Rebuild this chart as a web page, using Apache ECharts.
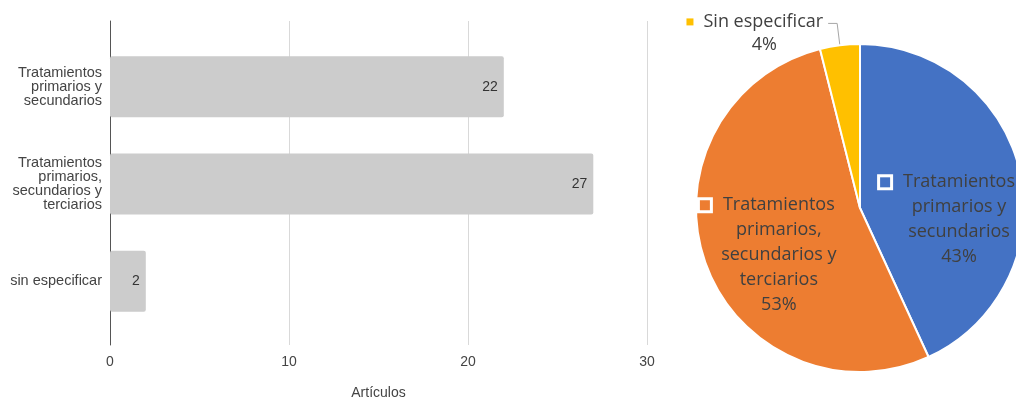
<!DOCTYPE html>
<html>
<head>
<meta charset="utf-8">
<script src="https://cdn.jsdelivr.net/npm/echarts@6/dist/echarts.min.js"></script>
<style>
  html, body { margin: 0; padding: 0; background: #ffffff; }
  #chart { width: 1016px; height: 400px; }
</style>
</head>
<body>
<div id="chart"></div>
<script>
// Bar chart: number of articles per treatment category
const categories = [
  'Tratamientos\nprimarios y\nsecundarios',
  'Tratamientos\nprimarios,\nsecundarios y\nterciarios',
  'sin especificar'
];
const articleCounts = [22, 27, 2];
const axisMin = 0;
const axisMax = 30;
const axisStep = 10;
const axisTitle = 'Artículos';

// Pie chart: share of each category
const sliceNames = [
  'Tratamientos primarios y secundarios',
  'Tratamientos primarios, secundarios y terciarios',
  'Sin especificar'
];
const sliceLabelLines = [
  ['Tratamientos', 'primarios y', 'secundarios'],
  ['Tratamientos', 'primarios,', 'secundarios y', 'terciarios'],
  ['Sin especificar']
];
const sliceValues = [22, 27, 2];

const sliceColors = ['#4472C4', '#ED7D31', '#FFC000'];
const barFont = '"Liberation Sans", Arial, sans-serif';
const pieFont = '"Open Sans", "Noto Sans", sans-serif';

const chart = echarts.init(document.getElementById('chart'), null, { renderer: 'canvas' });

const keyStyle = (color) => ({
  width: 10, height: 10, backgroundColor: color,
  borderColor: '#ffffff', borderWidth: 3, align: 'center'
});

const pieRich = {
  t: { fontFamily: pieFont, fontSize: 18, color: '#404040', lineHeight: 25, align: 'center' },
  ty: { fontFamily: pieFont, fontSize: 18, color: '#404040', lineHeight: 23, align: 'center' },
  gap: { width: 13, align: 'center' },
  tail: { width: 23, align: 'center' },
  gapy: { width: 10, align: 'center' },
  pady: { width: 19, align: 'center' },
  k0: keyStyle(sliceColors[0]),
  k1: keyStyle(sliceColors[1]),
  k2: { width: 7, height: 7, backgroundColor: sliceColors[2], align: 'center' }
};

function pieLabel(p) {
  const lines = sliceLabelLines[p.dataIndex];
  const pct = Math.round(p.percent) + '%';
  if (p.dataIndex === 2) {
    return '{k2|}{gapy|}{ty|' + lines[0] + '}\n{pady|}{ty|' + pct + '}';
  }
  const out = ['{k' + p.dataIndex + '|}{gap|}{t|' + lines[0] + '}{tail|}'];
  lines.slice(1).forEach(l => out.push('{t|' + l + '}'));
  out.push('{t|' + pct + '}');
  return out.join('\n');
}

// offsets that move the slice labels off the default spot
const labelNudge = [[16, 30], [-1, 19], [0, 10]];

const option = {
  animation: false,
  backgroundColor: '#ffffff',
  grid: [
    { left: 110, width: 537, top: 38, height: 292, outerBoundsMode: 'none', containLabel: false },
    { left: 110, width: 537, top: 21, height: 324, outerBoundsMode: 'none', containLabel: false }
  ],
  xAxis: [
    {
      gridIndex: 0, type: 'value', min: axisMin, max: axisMax, interval: axisStep,
      show: false
    },
    {
      gridIndex: 1, type: 'value', min: axisMin, max: axisMax, interval: axisStep,
      axisLine: { show: false }, axisTick: { show: false },
      splitLine: { show: true, showMinLine: false, lineStyle: { color: '#d9d9d9', width: 1 } },
      axisLabel: { color: '#444444', fontSize: 14, fontFamily: barFont, margin: 10 },
      name: axisTitle, nameLocation: 'middle', nameGap: 41,
      nameTextStyle: { color: '#444444', fontSize: 14, fontFamily: barFont }
    }
  ],
  yAxis: [
    {
      gridIndex: 0, type: 'category', data: categories, inverse: true,
      axisLine: { show: false }, axisTick: { show: false },
      axisLabel: {
        color: '#444444', fontSize: 14.5, fontFamily: barFont,
        lineHeight: 14, margin: 8, align: 'right'
      }
    },
    {
      gridIndex: 1, type: 'value', min: 0, max: 1,
      axisLine: { show: true, lineStyle: { color: '#555555', width: 1 } },
      axisTick: { show: false }, axisLabel: { show: false }, splitLine: { show: false }
    }
  ],
  series: [
    {
      type: 'bar',
      xAxisIndex: 0, yAxisIndex: 0,
      data: articleCounts,
      barWidth: 61,
      itemStyle: { color: '#cccccc', borderRadius: 2 },
      label: {
        show: true, position: 'insideRight', distance: 6,
        color: '#333333', fontSize: 14, fontFamily: barFont
      }
    },
    {
      type: 'pie',
      center: [860, 208],
      radius: 164,
      startAngle: 90,
      clockwise: true,
      avoidLabelOverlap: false,
      itemStyle: { borderColor: '#ffffff', borderWidth: 2 },
      label: {
        show: true, position: 'inside', formatter: pieLabel, rich: pieRich
      },
      labelLayout: function (params) {
        const n = labelNudge[params.dataIndex];
        return { dx: n[0], dy: n[1] };
      },
      data: sliceValues.map((v, i) => {
        const item = { name: sliceNames[i], value: v, itemStyle: { color: sliceColors[i] } };
        if (i === 2) {
          item.label = { position: 'outside' };
          item.labelLine = {
            show: true, length: 22, length2: 9,
            lineStyle: { color: '#a6a6a6', width: 1 }
          };
        }
        return item;
      })
    }
  ]
};

chart.setOption(option);
</script>
</body>
</html>
